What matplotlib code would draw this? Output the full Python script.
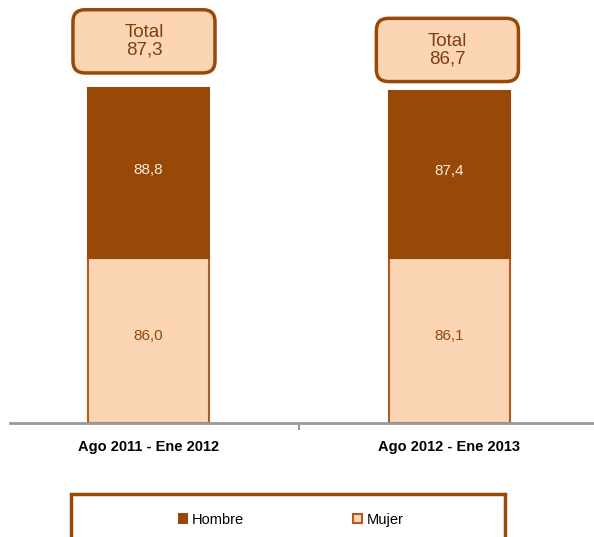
from matplotlib import pyplot as plt
from matplotlib.patches import Rectangle, FancyBboxPatch

plt.rcParams['font.family'] = ['Liberation Sans Narrow', 'Liberation Sans', 'DejaVu Sans']

# data
periods = ["Ago 2011 - Ene 2012", "Ago 2012 - Ene 2013"]
mujer = [86.0, 86.1]
hombre = [88.8, 87.4]
total = [87.3, 86.7]

DARK = "#984807"
LIGHT = "#FCD5B5"
TXT = "#7F3F0F"

fig = plt.figure(figsize=(5.94, 5.37), dpi=100)
ax = fig.add_axes([10 / 594, (537 - 423) / 537, 584 / 594, 423 / 537])
xpx, ypx = 301.0, 1.916  # pixels per data unit

x = list(range(len(periods)))
w = 0.40
ax.bar(x, mujer, width=w, color=LIGHT, edgecolor="#B35A1F", linewidth=1.5, label="Mujer")
ax.bar(x, hombre, width=w, bottom=mujer, color=DARK, edgecolor=DARK, linewidth=1.5, label="Hombre")

for i in x:
    ax.text(i, mujer[i] * 0.53, f"{mujer[i]:.1f}".replace(".", ","), ha="center", va="center",
            fontsize=11, color=DARK)
    ax.text(i, mujer[i] + hombre[i] * 0.52, f"{hombre[i]:.1f}".replace(".", ","), ha="center",
            va="center", fontsize=11, color="#FDEADA")

# total boxes
box_cx = [-0.015, 0.993]
box_cy = [199.2, 194.7]
bw, bh = 0.472, 33.0
for i in x:
    ax.add_patch(FancyBboxPatch((box_cx[i] - bw / 2, box_cy[i] - bh / 2), bw, bh,
                                boxstyle="round,pad=0,rounding_size=0.04",
                                mutation_aspect=xpx / ypx, fc=LIGHT, ec=DARK, lw=2.5,
                                clip_on=False))
    ax.text(box_cx[i], box_cy[i], "Total\n" + f"{total[i]:.1f}".replace(".", ","), ha="center",
            va="center", fontsize=13.5, color=TXT, linespacing=1.05)

ax.set_xlim((10 - 148.5) / xpx, (594 - 148.5) / xpx)
ax.set_ylim(0, 423 / ypx)
ax.set_xticks(x)
ax.set_xticklabels(periods, fontsize=10.5, fontweight="bold")
ax.set_xticks([0.5], minor=True)
ax.tick_params(axis="x", which="major", length=0, pad=12)
ax.tick_params(axis="x", which="minor", length=5, width=1.5, color="#999999")
ax.set_yticks([])
for s in ["top", "left", "right"]:
    ax.spines[s].set_visible(False)
ax.spines["bottom"].set_color("#999999")
ax.spines["bottom"].set_linewidth(2)

# legend frame
fig.patches.append(Rectangle((71 / 594, -0.02), (505 - 71) / 594, 0.02 + (537 - 494) / 537,
                             transform=fig.transFigure, fill=False, ec=DARK, lw=2.5))
h, l = ax.get_legend_handles_labels()
fig.legend(h[::-1], l[::-1], loc="center", bbox_to_anchor=(0.49, 0.032), ncol=2, frameon=False,
           fontsize=10.5, handlelength=0.6, handleheight=0.6, handletextpad=0.3, columnspacing=7.5)

plt.savefig("out.png", dpi=100)
